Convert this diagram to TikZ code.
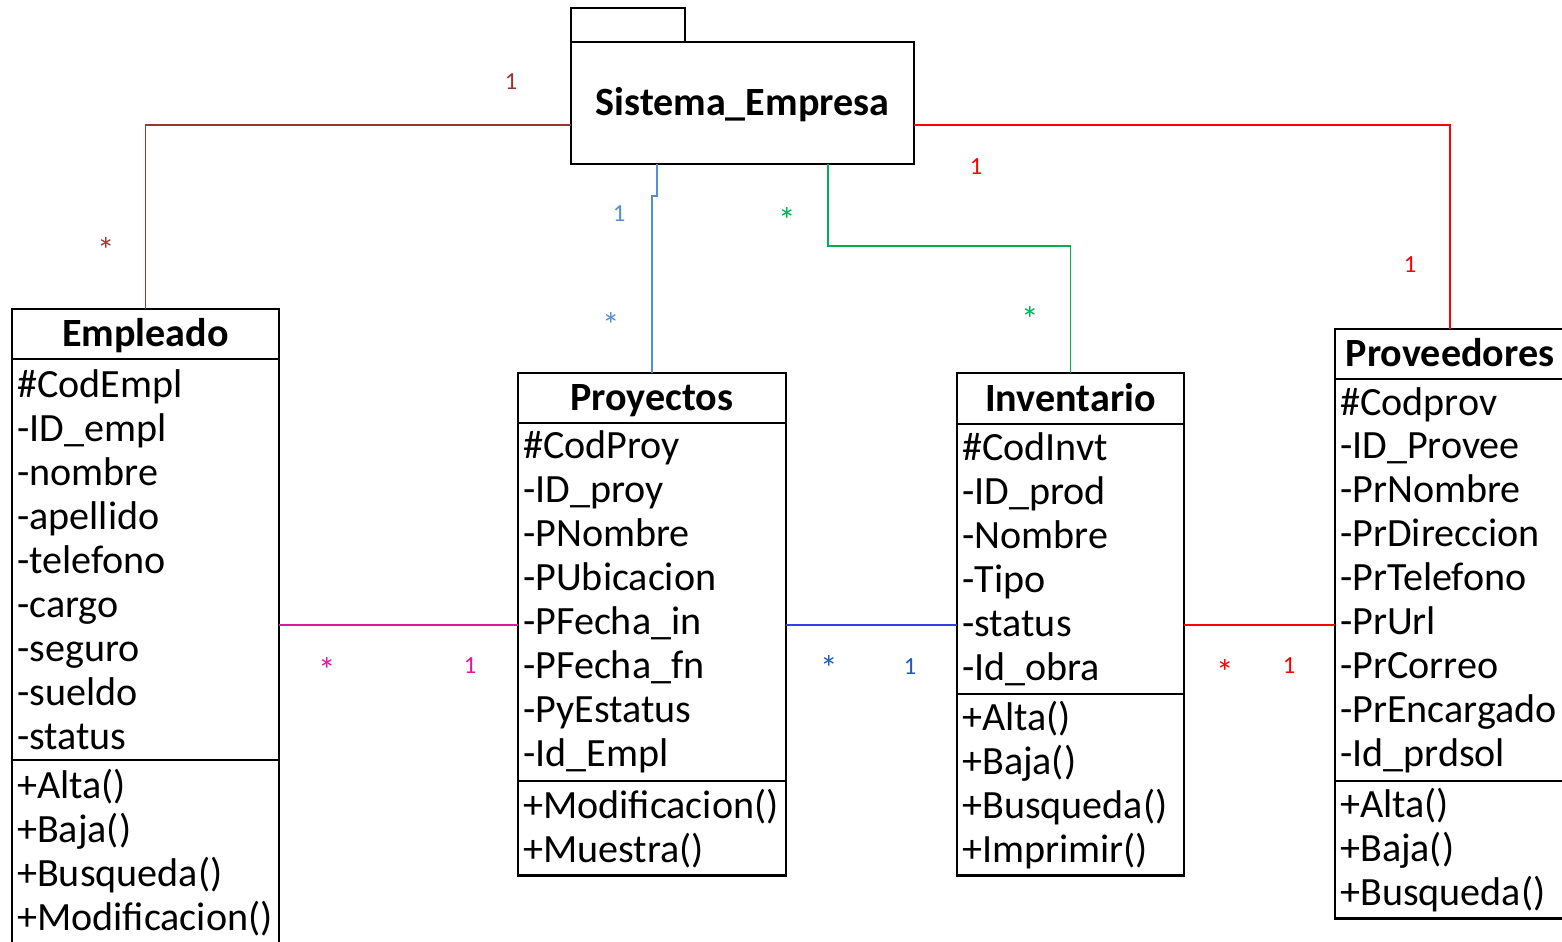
\documentclass[tikz,border=0pt]{standalone}
\usepackage{fontspec}
\setmainfont{Carlito}
\usetikzlibrary{positioning}

\definecolor{brn}{RGB}{150,55,53}
\definecolor{rd}{RGB}{255,0,0}
\definecolor{lblue}{RGB}{85,142,213}
\definecolor{grn}{RGB}{0,176,80}
\definecolor{mag}{RGB}{224,24,160}
\definecolor{dblue}{RGB}{60,60,230}
\definecolor{dbluetxt}{RGB}{30,90,190}

\begin{document}
\begin{tikzpicture}[x=0.01cm,y=-0.01cm,
	hdr/.style={draw, line width=0.7pt, font=\bfseries\fontsize{11.4}{12.5}\selectfont, text height=8.8pt, text depth=1.5pt, inner sep=0pt, outer sep=0pt},
	fld/.style={draw, line width=0.7pt, font=\fontsize{11.4}{12.5}\selectfont, align=left, text width=#1, inner xsep=1.5pt, inner ysep=0pt, outer sep=0pt},
	link/.style={line width=0.45pt},
	mult/.style={font=\fontsize{7}{8}\selectfont, inner sep=0pt},
	mstar/.style={font=\fontsize{10}{11}\selectfont, inner sep=0pt, yshift=-0.05cm}]

		\path[use as bounding box] (0,0) rectangle (1562,941);
		\clip (0,0) rectangle (1562,941);

		%Paquete
		\node[hdr, minimum width=3.43cm, minimum height=1.22cm] (sis) at (742.5,103) {Sistema\_Empresa};
		\node[draw, line width=0.7pt, outer sep=0pt, anchor=south west, minimum width=1.14cm, minimum height=0.34cm] (sistab) at (sis.north west) {};

		%Empleado
		\node[hdr, minimum width=2.67cm, minimum height=0.5cm] (emp) at (145.5,334) {Empleado};
		\node[fld=2.564cm, minimum height=4.01cm, below=0pt of emp] (empA) {\#CodEmpl\\-ID\_empl\\-nombre\\-apellido\\-telefono\\-cargo\\-seguro\\-sueldo\\-status};
		\node[fld=2.564cm, minimum height=1.84cm, below=0pt of empA] (empM) {+Alta()\\+Baja()\\+Busqueda()\\+Modificacion()};

		%Proyectos
		\node[hdr, minimum width=2.68cm, minimum height=0.5cm] (proy) at (652,398) {Proyectos};
		\node[fld=2.574cm, minimum height=3.58cm, below=0pt of proy] (proyA) {\#CodProy\\-ID\_proy\\-PNombre\\-PUbicacion\\-PFecha\_in\\-PFecha\_fn\\-PyEstatus\\-Id\_Empl};
		\node[fld=2.574cm, minimum height=0.94cm, below=0pt of proyA] (proyM) {+Modificacion()\\+Muestra()};

		%Inventario
		\node[hdr, minimum width=2.27cm, minimum height=0.51cm] (inv) at (1070.5,398.5) {Inventario};
		\node[fld=2.164cm, minimum height=2.70cm, below=0pt of inv] (invA) {\#CodInvt\\-ID\_prod\\-Nombre\\-Tipo\\-status\\-Id\_obra};
		\node[fld=2.164cm, minimum height=1.81cm, below=0pt of invA] (invM) {+Alta()\\+Baja()\\+Busqueda()\\+Imprimir()};

		%Proveedores
		\node[hdr, minimum width=2.30cm, minimum height=0.5cm] (prov) at (1450,354) {Proveedores};
		\node[fld=2.194cm, minimum height=4.02cm, below=0pt of prov] (provA) {\#Codprov\\-ID\_Provee\\-PrNombre\\-PrDireccion\\-PrTelefono\\-PrUrl\\-PrCorreo\\-PrEncargado\\-Id\_prdsol};
		\node[fld=2.194cm, minimum height=1.37cm, below=0pt of provA] (provM) {+Alta()\\+Baja()\\+Busqueda()};

		%Conectores
		\coordinate (top) at (0,125);
		\coordinate (mid) at (0,625);
		\coordinate (jog) at (657,196);
		\coordinate (gbend) at (828,246);
		\draw[link, brn] (sis.west |- top) -| (emp.north);
		\draw[link, rd] (sis.east |- top) -| (prov.north);
		\draw[link, lblue] (jog |- sis.south) -- (jog) -| (proy.north);
		\draw[link, grn] (gbend |- sis.south) -- (gbend) -| (inv.north);
		\draw[link, mag] (emp.east |- mid) -- (proy.west |- mid);
		\draw[link, dblue] (proyA.east |- mid) -- (invA.west |- mid);
		\draw[link, rd] (invA.east |- mid) -- (provA.west |- mid);

		%Multiplicidades
		\node[mult, text=brn] (mSisEmp) at (511,82) {1};
		\node[mstar, text=brn] (mEmpSis) at (106,245) {*};
		\node[mult, text=rd] (mSisProv) at (976,167) {1};
		\node[mult, text=rd] (mProvSis) at (1410,265) {1};
		\node[mult, text=lblue] (mSisProy) at (619,214) {1};
		\node[mstar, text=lblue] (mProySis) at (611,320) {*};
		\node[mstar, text=grn] (mSisInv) at (787,215) {*};
		\node[mstar, text=grn] (mInvSis) at (1030,314) {*};
		\node[mstar, text=mag] (mEmpProy) at (327,665) {*};
		\node[mult, text=mag] (mProyEmp) at (470,666) {1};
		\node[mstar, text=dbluetxt] (mProyInv) at (829,663) {*};
		\node[mult, text=dbluetxt] (mInvProy) at (910,667) {1};
		\node[mstar, text=rd] (mInvProv) at (1225,667) {*};
		\node[mult, text=rd] (mProvInv) at (1289,666) {1};
\end{tikzpicture}
\end{document}
